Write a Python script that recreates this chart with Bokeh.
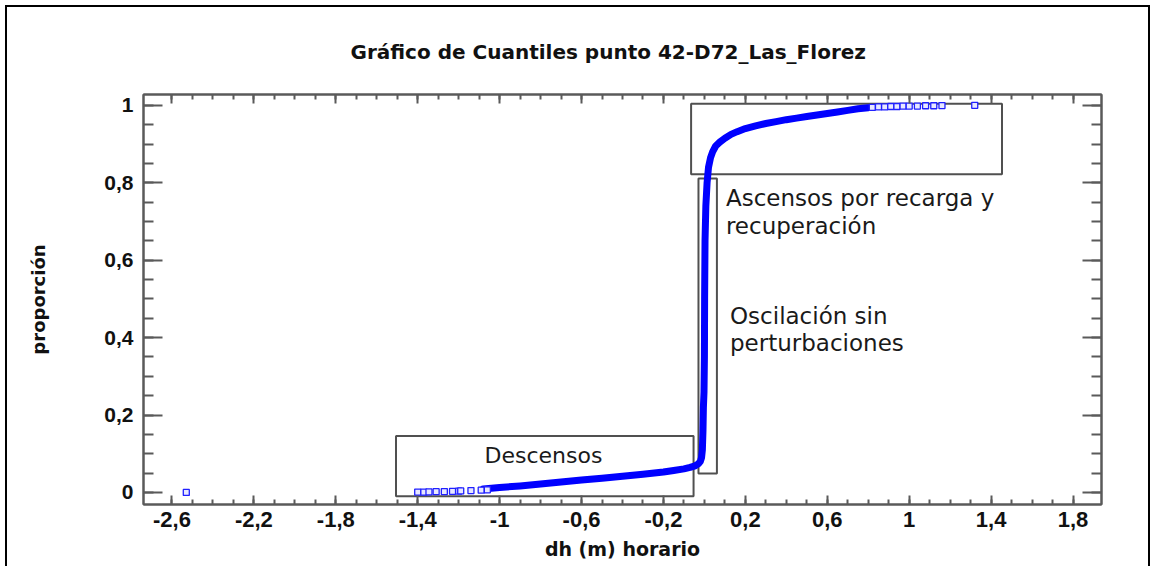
from bokeh.plotting import figure
from bokeh.models import (Range1d, FixedTicker, CustomJSTickFormatter, LinearAxis, Label)
from bokeh.embed import file_html
from bokeh.resources import INLINE

# ---------------- data ----------------
title_text = "Gráfico de Cuantiles punto 42-D72_Las_Florez"
x_label = "dh (m) horario"
y_label = "proporción"

x_ticks = [-2.6, -2.2, -1.8, -1.4, -1.0, -0.6, -0.2, 0.2, 0.6, 1.0, 1.4, 1.8]
x_tick_labels = ["-2,6", "-2,2", "-1,8", "-1,4", "-1", "-0,6", "-0,2", "0,2", "0,6", "1", "1,4", "1,8"]
x_minor = [round(-2.6 + 0.1 * i, 1) for i in range(45)]
y_ticks = [0.0, 0.2, 0.4, 0.6, 0.8, 1.0]
y_tick_labels = ["0", "0,2", "0,4", "0,6", "0,8", "1"]
y_minor = [round(0.05 * i, 2) for i in range(21)]

# dense part of the empirical distribution (solid band)
curve_x = [-1.08, -1.04, -1.0, -0.9, -0.8, -0.7, -0.6, -0.5, -0.4, -0.3, -0.2, -0.15,
           -0.1, -0.07, -0.045, -0.03, -0.02, -0.014, -0.01, -0.007, -0.005, -0.002,
           0.0, 0.001, 0.003, 0.007, 0.013, 0.02, 0.03, 0.04, 0.055, 0.075, 0.1,
           0.13, 0.16, 0.2, 0.25, 0.3, 0.35, 0.4, 0.45, 0.5, 0.55, 0.6, 0.65, 0.7,
           0.75, 0.8]
curve_p = [0.009, 0.011, 0.013, 0.017, 0.022, 0.027, 0.032, 0.037, 0.042, 0.047, 0.053,
           0.057, 0.061, 0.065, 0.069, 0.074, 0.08, 0.09, 0.11, 0.16, 0.22, 0.26, 0.35,
           0.5, 0.65, 0.74, 0.8, 0.84, 0.865, 0.88, 0.895, 0.905, 0.915, 0.925, 0.932,
           0.94, 0.947, 0.953, 0.958, 0.963, 0.967, 0.971, 0.975, 0.979, 0.983, 0.987,
           0.991, 0.994]

# isolated points in the tails (visible as single squares)
tail_x = [-2.53, -1.40, -1.37, -1.345, -1.31, -1.27, -1.23, -1.20, -1.19, -1.14, -1.09,
          -1.06, 0.82, 0.85, 0.88, 0.91, 0.94, 0.97, 1.0, 1.04, 1.08, 1.12, 1.16, 1.32]
tail_p = [0.0003, 0.001, 0.0012, 0.0015, 0.002, 0.0025, 0.003, 0.0035, 0.004, 0.005,
          0.006, 0.007, 0.995, 0.996, 0.996, 0.997, 0.997, 0.998, 0.998, 0.998, 0.999,
          0.999, 0.9995, 1.0]

# annotation boxes: left, right, bottom, top
box_left = [-1.506, -0.029, -0.065]
box_right = [-0.053, 0.061, 1.453]
box_bottom = [-0.0096, 0.049, 0.822]
box_top = [0.146, 0.811, 1.004]

notes = ["Descensos", "Ascensos por recarga y", "recuperación", "Oscilación sin", "perturbaciones"]
note_x = [-0.786, 0.105, 0.105, 0.125, 0.125]
note_y = [0.096, 0.760, 0.688, 0.456, 0.386]
note_align = ["center", "left", "left", "left", "left"]
note_size = ["22px", "23px", "23px", "23px", "23px"]

# ---------------- figure ----------------
AX = "#5a5a5a"
TICK_FONT = "Liberation Sans"
LABEL_FONT = "DejaVu Sans"

p = figure(frame_width=958, frame_height=410,
           min_border_left=136, min_border_top=87, min_border_right=47, min_border_bottom=62,
           x_range=Range1d(-2.739, 1.939), y_range=Range1d(-0.031, 1.028),
           output_backend="svg", toolbar_location=None,
           styles={"border-top": "2px solid black", "border-left": "2px solid black",
                   "border-right": "2px solid black", "margin-left": "5px",
                   "margin-top": "5px"})
p.background_fill_color = "white"
p.border_fill_color = "white"
p.outline_line_color = AX
p.outline_line_width = 2
p.xgrid.visible = False
p.ygrid.visible = False

p.title.text = title_text
p.title.align = "left"
p.title.offset = 207
p.title.standoff = 58
p.title.vertical_align = "top"
p.title.text_font = LABEL_FONT
p.title.text_font_style = "bold"
p.title.text_font_size = "20px"
p.title.text_color = "#111111"

fmt_code = """
var s = tick.toFixed(1).replace('.', ',');
if (s.endsWith(',0')) { s = s.slice(0, -2); }
if (s === '-0') { s = '0'; }
return s;
"""

def style_axis(ax, major_in, minor_in):
    ax.axis_line_color = AX
    ax.axis_line_width = 2
    ax.major_tick_line_color = AX
    ax.minor_tick_line_color = AX
    ax.major_tick_line_width = 2
    ax.minor_tick_line_width = 2
    ax.major_tick_in = major_in
    ax.major_tick_out = 0
    ax.minor_tick_in = minor_in
    ax.minor_tick_out = 0

xax = p.xaxis[0]
xax.ticker = FixedTicker(ticks=x_ticks, minor_ticks=x_minor)
xax.formatter = CustomJSTickFormatter(code=fmt_code)
xax.major_label_overrides = dict(zip(x_ticks, x_tick_labels))
style_axis(xax, 9, 5)
xax.major_label_standoff = 7
xax.major_label_text_font = TICK_FONT
xax.major_label_text_font_style = "bold"
xax.major_label_text_font_size = "22px"
xax.major_label_text_color = "#111111"
xax.axis_label = x_label
xax.axis_label_text_font = LABEL_FONT
xax.axis_label_text_font_style = "bold"
xax.axis_label_text_font_size = "19px"
xax.axis_label_text_color = "#111111"
xax.axis_label_standoff = 8

yax = p.yaxis[0]
yax.ticker = FixedTicker(ticks=y_ticks, minor_ticks=y_minor)
yax.formatter = CustomJSTickFormatter(code=fmt_code)
yax.major_label_overrides = dict(zip(y_ticks, y_tick_labels))
style_axis(yax, 19, 10)
yax.major_label_standoff = 10
yax.major_label_text_font = TICK_FONT
yax.major_label_text_font_style = "bold"
yax.major_label_text_font_size = "21px"
yax.major_label_text_color = "#111111"
yax.axis_label = y_label
yax.axis_label_text_font = LABEL_FONT
yax.axis_label_text_font_style = "bold"
yax.axis_label_text_font_size = "18px"
yax.axis_label_text_color = "#111111"
yax.axis_label_standoff = 52

empty = CustomJSTickFormatter(code="return '';")
top = LinearAxis(ticker=FixedTicker(ticks=x_ticks, minor_ticks=x_minor), formatter=empty,
                 major_label_text_font_size="1px")
style_axis(top, 9, 5)
p.add_layout(top, "above")
right = LinearAxis(ticker=FixedTicker(ticks=y_ticks, minor_ticks=y_minor), formatter=empty,
                   major_label_text_font_size="1px")
style_axis(right, 19, 10)
p.add_layout(right, "right")

# boxes
p.quad(left=box_left, right=box_right, bottom=box_bottom, top=box_top,
       fill_color=None, line_color="#505050", line_width=2)

# data
p.line(curve_x, curve_p, line_color="#0000ff", line_width=7, line_join="round", line_cap="round")
p.scatter(tail_x, tail_p, marker="square", size=6, line_color="#2020ff", line_width=1.3,
          fill_color="#e8e8ff")

for t, xx, yy, al, fs in zip(notes, note_x, note_y, note_align, note_size):
    p.add_layout(Label(x=xx, y=yy, text=t, text_align=al, text_baseline="middle",
                       text_font=LABEL_FONT, text_font_size=fs, text_color="#1a1a1a"))

open("out.html", "w").write(file_html(p, INLINE))
